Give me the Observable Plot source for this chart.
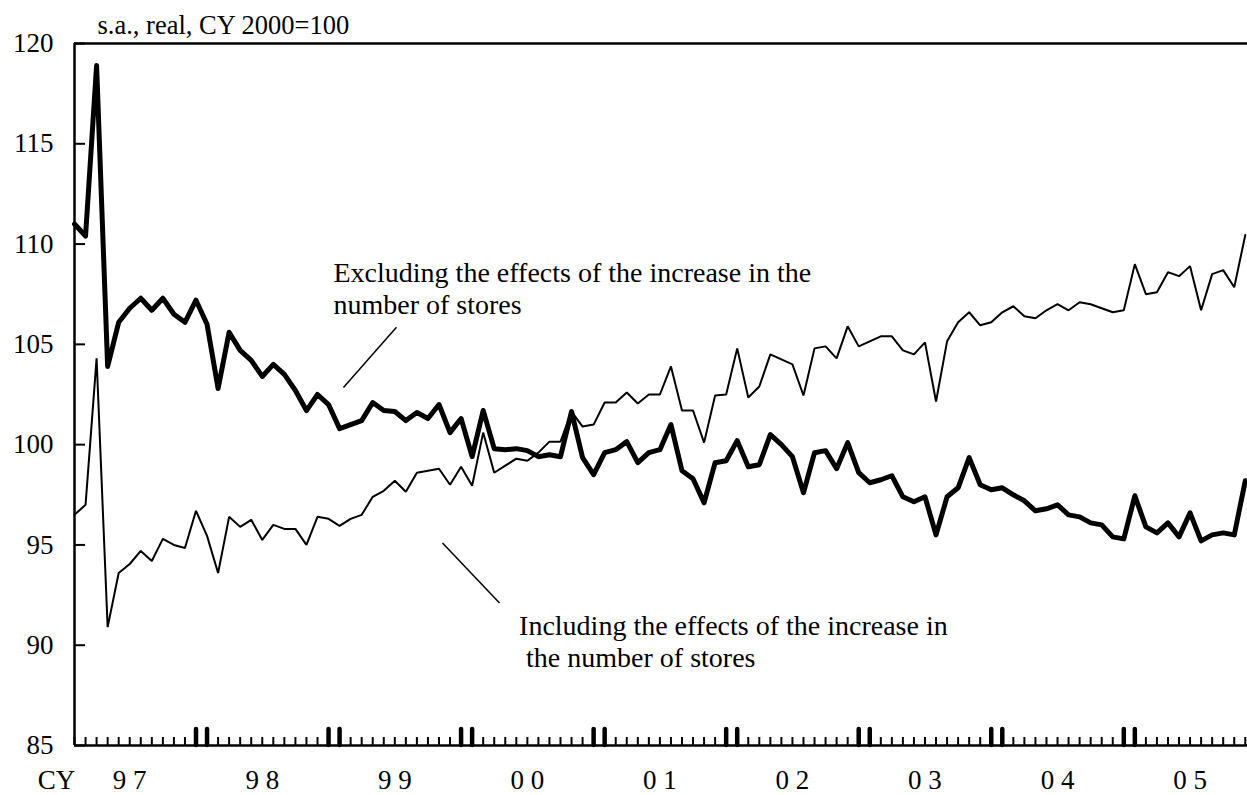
<!DOCTYPE html>
<html>
<head>
<meta charset="utf-8">
<script src="https://cdn.jsdelivr.net/npm/d3@7"></script>
<script src="https://cdn.jsdelivr.net/npm/@observablehq/plot@0.6"></script>
<style>
  html, body { margin: 0; padding: 0; background: #fff; }
  #chart svg { display: block; }
</style>
</head>
<body>
<div id="chart"></div>
<script>
// Monthly, Jan 1997 (index 0) to Nov 2005 (index 106)
const excludingStores = [
  111.0, 110.4, 118.9, 103.9, 106.1, 106.8, 107.3, 106.7, 107.3, 106.5, 106.1, 107.2,
  106.0, 102.8, 105.6, 104.7, 104.2, 103.4, 104.0, 103.5, 102.7, 101.7, 102.5, 102.0,
  100.8, 101.0, 101.2, 102.1, 101.7, 101.65, 101.2, 101.6, 101.3, 102.0, 100.6, 101.3,
  99.4, 101.7, 99.8, 99.75, 99.8, 99.7, 99.4, 99.5, 99.4, 101.65, 99.35, 98.5,
  99.6, 99.75, 100.15, 99.1, 99.6, 99.75, 101.0, 98.7, 98.3, 97.1, 99.1, 99.2,
  100.2, 98.9, 99.0, 100.5, 100.0, 99.4, 97.6, 99.6, 99.7, 98.8, 100.1, 98.6,
  98.1, 98.25, 98.45, 97.4, 97.15, 97.4, 95.5, 97.4, 97.85, 99.35, 98.0, 97.75,
  97.85, 97.5, 97.2, 96.7, 96.8, 97.0, 96.5, 96.4, 96.1, 96.0, 95.4, 95.3,
  97.45, 95.9, 95.6, 96.1, 95.4, 96.6, 95.2, 95.5, 95.6, 95.5, 98.2
];
const includingStores = [
  96.5, 97.0, 104.3, 90.9, 93.6, 94.05, 94.7, 94.2, 95.3, 95.0, 94.85, 96.7,
  95.45, 93.6, 96.4, 95.9, 96.25, 95.25, 96.0, 95.8, 95.8, 95.0, 96.4, 96.3,
  95.95, 96.3, 96.5, 97.4, 97.7, 98.2, 97.65, 98.6, 98.7, 98.8, 98.0, 98.9,
  97.95, 100.6, 98.6, 98.95, 99.3, 99.2, 99.6, 100.15, 100.15, 101.65, 100.9, 101.0,
  102.1, 102.1, 102.6, 102.05, 102.5, 102.5, 103.9, 101.7, 101.7, 100.1, 102.45, 102.5,
  104.8, 102.35, 102.9, 104.5, 104.25, 104.0, 102.45, 104.8, 104.9, 104.3, 105.9, 104.9,
  105.15, 105.4, 105.4, 104.7, 104.5, 105.1, 102.15, 105.15, 106.1, 106.6, 105.95, 106.1,
  106.6, 106.9, 106.4, 106.3, 106.7, 107.0, 106.7, 107.1, 107.0, 106.8, 106.6, 106.7,
  109.0, 107.5, 107.6, 108.6, 108.4, 108.9, 106.7, 108.5, 108.7, 107.85, 110.45
];
const yearLabels = ["9 7", "9 8", "9 9", "0 0", "0 1", "0 2", "0 3", "0 4", "0 5"];
const yTicks = [85, 90, 95, 100, 105, 110, 115, 120];
const subtitle = "s.a., real, CY 2000=100";
const axisPrefix = "CY";
const labelExcluding = "Excluding the effects of the increase in the\nnumber of stores";
const labelIncluding = "Including the effects of the increase in\n\u00a0the number of stores";

const W = 1247, H = 795;
const mL = 74, mR = 0, mT = 43, mB = 50;
const plotW = W - mL - mR, plotH = H - mT - mB;
const yDomain = [85, 120];
const font = "'Liberation Serif', 'Times New Roman', serif";
const fs = 27;
const unitsPerPx = (yDomain[1] - yDomain[0]) / plotH;

const months = d3.range(excludingStores.length);
const rows = months.map(i => ({i, excl: excludingStores[i], incl: includingStores[i]}));
const boundaryMonths = months.filter(i => i > 0 && (i % 12 === 11 || i % 12 === 0));
const minorMonths = months.filter(i => !boundaryMonths.includes(i));
const labelRows = yearLabels.map((t, k) => ({t, i: 5 + 12 * k}));

// annotation anchors (month index, value)
const notes = [
  {text: labelExcluding, i: 23.45, v: 106.5},
  {text: labelIncluding, i: 40.25, v: 88.9}
];
const leaders = [
  {i1: 24.35, v1: 102.85, i2: 29.15, v2: 105.85},
  {i1: 33.32, v1: 95.1, i2: 38.48, v2: 92.1}
];

const chart = Plot.plot({
  width: W, height: H,
  marginLeft: mL, marginRight: mR, marginTop: mT, marginBottom: mB,
  style: {fontFamily: font, background: "#fff", color: "#000", overflow: "visible"},
  x: {domain: [0, 106.2], axis: null},
  y: {domain: yDomain, axis: null},
  marks: [
    // frame
    Plot.ruleY([120], {stroke: "#000", strokeWidth: 2.5}),
    Plot.ruleX([0], {stroke: "#000", strokeWidth: 2.5}),
    // y ticks (inside)
    Plot.tickY(yTicks, {y: d => d, stroke: "#000", strokeWidth: 2, insetRight: plotW - 11}),
    // monthly ticks
    Plot.ruleX(minorMonths, {x: d => d, y1: yDomain[0], y2: yDomain[0] + 8 * unitsPerPx, stroke: "#000", strokeWidth: 2}),
    // year-boundary ticks
    Plot.ruleX(boundaryMonths, {x: d => d, y1: yDomain[0], y2: yDomain[0] + 16 * unitsPerPx, stroke: "#000", strokeWidth: 4.5, strokeLinecap: "round"}),
    Plot.ruleY([85], {stroke: "#000", strokeWidth: 2.5}),
    // series
    Plot.line(rows, {x: "i", y: "incl", stroke: "#000", strokeWidth: 2, strokeLinejoin: "miter"}),
    Plot.line(rows, {x: "i", y: "excl", stroke: "#000", strokeWidth: 5, strokeLinejoin: "round"}),
    // y labels
    Plot.text(yTicks, {x: 0, y: d => d, text: d => String(d), textAnchor: "end", dx: -21, fontSize: fs, fill: "#000"}),
    // x labels
    Plot.text(labelRows, {x: "i", y: 85, text: "t", lineAnchor: "bottom", dy: 43, fontSize: fs, fill: "#000"}),
    Plot.text([axisPrefix], {x: 0, y: 85, text: d => d, lineAnchor: "bottom", dx: -18, dy: 43, fontSize: fs, fill: "#000"}),
    // subtitle
    Plot.text([subtitle], {x: 0, y: 120, text: d => d, textAnchor: "start", lineAnchor: "bottom", dx: 23, dy: -10, fontSize: 26.5, fill: "#000"}),
    // annotations
    Plot.link(leaders, {x1: "i1", y1: "v1", x2: "i2", y2: "v2", stroke: "#000", strokeWidth: 1.5}),
    Plot.text(notes, {x: "i", y: "v", text: "text", textAnchor: "start", lineAnchor: "bottom", lineHeight: 1.15, fontSize: 28, fill: "#000"})
  ]
});
document.getElementById("chart").appendChild(chart);
</script>
</body>
</html>
